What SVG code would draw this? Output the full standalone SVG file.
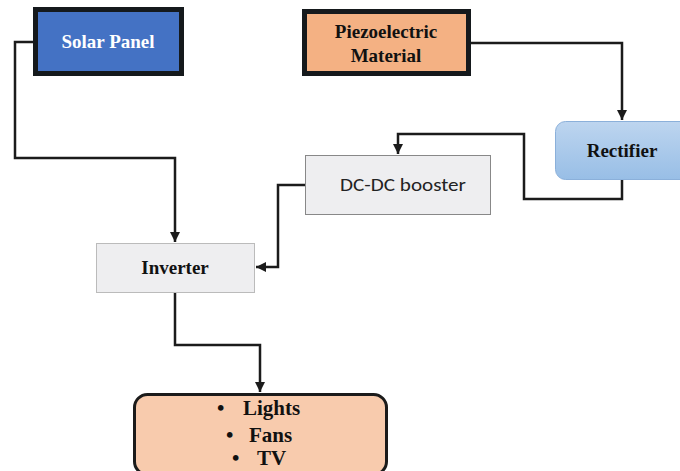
<svg xmlns="http://www.w3.org/2000/svg" width="680" height="471" viewBox="0 0 680 471">
<style>
.t{font-family:"Liberation Serif","Times New Roman",serif;font-weight:bold;text-anchor:middle;fill:#111}
.b{font-family:"Liberation Serif","Times New Roman",serif;font-weight:bold;fill:#111;font-size:21px}
.c{fill:none;stroke:#1b1b1b;stroke-width:2.5;stroke-linejoin:miter}
</style>
<defs>
<marker id="ah" viewBox="0 0 10 10" refX="10" refY="5" markerWidth="4" markerHeight="4" orient="auto" markerUnits="strokeWidth">
<path d="M0,0 L10,5 L0,10 z" fill="#1b1b1b"/>
</marker>
<linearGradient id="rg" x1="0" y1="0" x2="0" y2="1">
<stop offset="0" stop-color="#BDD5EF"/>
<stop offset="1" stop-color="#98BEE6"/>
</linearGradient>
</defs>
<rect width="680" height="471" fill="#fff"/>
<g id="connectors">
<path class="c" d="M35,42 H15 V158 H175 V242" marker-end="url(#ah)"/>
<path class="c" d="M471,43 H622 V120" marker-end="url(#ah)"/>
<path class="c" d="M622,180 V199 H524 V134 H398 V154" marker-end="url(#ah)"/>
<path class="c" d="M305,185 H278 V267 H256" marker-end="url(#ah)"/>
<path class="c" d="M175,293 V345 H260 V392" marker-end="url(#ah)"/>
</g>
<g id="solar">
<rect x="35.5" y="9.5" width="146" height="64" fill="#4472C4" stroke="#15191c" stroke-width="5"/>
<text class="t" x="108" y="48" font-size="19" style="fill:#fff">Solar Panel</text>
</g>
<g id="piezo">
<rect x="304.5" y="11.5" width="164" height="62" fill="#F4B183" stroke="#15191c" stroke-width="5"/>
<text class="t" x="386" y="38" font-size="19">Piezoelectric</text>
<text class="t" x="386" y="62" font-size="19">Material</text>
</g>
<g id="rectifier">
<rect x="555.5" y="121.5" width="140" height="58" rx="10" fill="url(#rg)" stroke="#8BB0DA" stroke-width="1"/>
<text class="t" x="622" y="157" font-size="19">Rectifier</text>
</g>
<g id="booster">
<rect x="305.5" y="155.5" width="185" height="59" fill="#EEEEF0" stroke="#888" stroke-width="1"/>
<text x="340" y="191" font-size="18" textLength="126" lengthAdjust="spacingAndGlyphs" font-family="Carlito,'Liberation Sans',Arial,sans-serif" fill="#222">DC-DC booster</text>
</g>
<g id="inverter">
<rect x="96.5" y="243.5" width="158" height="49" fill="#EEEEF0" stroke="#bbb" stroke-width="1"/>
<text class="t" x="175" y="274" font-size="19">Inverter</text>
</g>
<g id="output">
<rect x="134.5" y="394.5" width="252" height="80" rx="13" fill="#F8CBAD" stroke="#1b1b1b" stroke-width="3"/>
<text class="b" x="217" y="415">•</text>
<text class="b" x="243" y="415">Lights</text>
<text class="b" x="226" y="442">•</text>
<text class="b" x="249" y="442">Fans</text>
<text class="b" x="232" y="465">•</text>
<text class="b" x="257" y="465">TV</text>
</g>
</svg>
